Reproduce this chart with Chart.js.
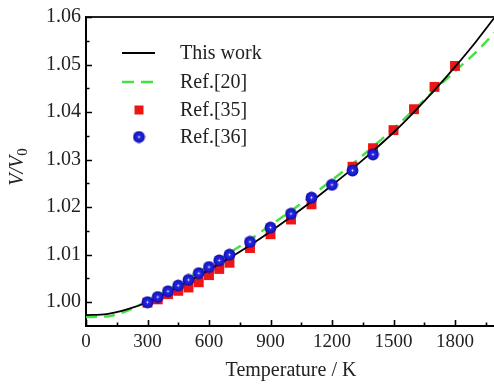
<!DOCTYPE html>
<html>
<head>
<meta charset="utf-8">
<script src="https://cdn.jsdelivr.net/npm/chart.js@4/dist/chart.umd.min.js"></script>
<style>
html,body{margin:0;padding:0;background:#fff;overflow:hidden;}
#wrap{position:absolute;left:0;top:0;width:503px;height:387px;}
</style>
</head>
<body>
<div id="wrap"><canvas id="c"></canvas></div>
<script>
// ---------- data ----------
const thisWorkT = [0,100,200,300,400,500,600,700,800,900,1000,1100,1200,1300,1400,1500,1600,1700,1800,1900,2000];
const thisWorkV = [0.9973,0.9975,0.9985,1.0000,1.0021,1.0044,1.0068,1.0093,1.0120,1.0149,1.0180,1.0212,1.0246,1.0281,1.0318,1.0357,1.0400,1.0446,1.0495,1.0547,1.0603];

const ref20T = [0,100,200,300,400,500,600,700,800,900,1000,1100,1200,1300,1400,1500,1600,1700,1800,1900,2000];
const ref20V = [0.9969,0.9970,0.9982,1.0003,1.0026,1.0051,1.0077,1.0104,1.0132,1.0162,1.0192,1.0224,1.0257,1.0291,1.0327,1.0365,1.0405,1.0446,1.0486,1.0525,1.0570];

const ref35T = [300,350,400,450,500,550,600,650,700,800,900,1000,1100,1300,1400,1500,1600,1700,1800];
const ref35V = [0.9999,1.0006,1.0017,1.0024,1.0031,1.0042,1.0057,1.0070,1.0083,1.0114,1.0143,1.0174,1.0206,1.0285,1.0324,1.0362,1.0406,1.0453,1.0497];

const ref36T = [300,350,400,450,500,550,600,650,700,800,900,1000,1100,1200,1300,1400];
const ref36V = [1.0000,1.0011,1.0023,1.0035,1.0047,1.0061,1.0074,1.0088,1.0100,1.0127,1.0157,1.0186,1.0220,1.0247,1.0277,1.0311];

const xTickValues = [0,300,600,900,1200,1500,1800];
const yTickValues = [1.00,1.01,1.02,1.03,1.04,1.05,1.06];
const xRange = [0,2000];
const yRange = [0.995,1.06];

const seriesNames = ['This work','Ref.[20]','Ref.[35]','Ref.[36]'];
const xTitle = 'Temperature / K';

// ---------- styles ----------
const SERIF = '"Liberation Serif", "Times New Roman", serif';
const BLACK = '#000000';
const GREEN = '#44e044';
const RED = '#ee1515';

function pts(t,v){return t.map((x,i)=>({x:x,y:v[i]}));}

function makeBall(){
  const s=13, c=document.createElement('canvas');
  c.width=s;c.height=s;
  const g=c.getContext('2d');
  const grad=g.createRadialGradient(6.5,6.5,0,6.5,6.5,6);
  grad.addColorStop(0,'#ffffff');
  grad.addColorStop(0.1,'#e0e0ff');
  grad.addColorStop(0.22,'#2a2ae0');
  grad.addColorStop(0.7,'#1818cc');
  grad.addColorStop(1,'#0c0ca4');
  g.fillStyle=grad;
  g.beginPath();g.arc(6.5,6.5,5.9,0,Math.PI*2);g.fill();
  return c;
}
const ball = makeBall();

function minorsFrom(majors, lo, hi){
  const out=[];
  const step=majors[1]-majors[0];
  for(let i=0;i<majors.length;i++){
    const a=majors[i]-step/2, b=majors[i]+step/2;
    if(a>lo+1e-9&&a<hi-1e-9&&out.indexOf(a)<0) out.push(a);
    if(b>lo+1e-9&&b<hi-1e-9&&out.indexOf(b)<0) out.push(b);
  }
  return out;
}

const decor = {
  id:'decor',
  afterDraw(chart){
    const ctx=chart.ctx, a=chart.chartArea;
    const xs=chart.scales.x, ys=chart.scales.y;
    ctx.save();
    // top frame
    ctx.strokeStyle='#222';ctx.lineWidth=2;
    ctx.beginPath();ctx.moveTo(a.left,a.top);ctx.lineTo(a.right+2,a.top);ctx.stroke();
    // inward ticks
    ctx.strokeStyle='#000';ctx.lineWidth=1.6;
    ctx.beginPath();
    xTickValues.forEach(v=>{const p=Math.round(xs.getPixelForValue(v))+0.5;ctx.moveTo(p,a.bottom);ctx.lineTo(p,a.bottom-6);});
    minorsFrom(xTickValues,xRange[0],xRange[1]).forEach(v=>{const p=Math.round(xs.getPixelForValue(v))+0.5;ctx.moveTo(p,a.bottom);ctx.lineTo(p,a.bottom-3.5);});
    yTickValues.forEach(v=>{const p=Math.round(ys.getPixelForValue(v))+0.5;ctx.moveTo(a.left,p);ctx.lineTo(a.left+6,p);});
    minorsFrom(yTickValues,yRange[0],yRange[1]).forEach(v=>{const p=Math.round(ys.getPixelForValue(v))+0.5;ctx.moveTo(a.left,p);ctx.lineTo(a.left+3.5,p);});
    ctx.stroke();

    // y axis title V/V0
    ctx.save();
    ctx.translate(18,167);
    ctx.rotate(-Math.PI/2);
    ctx.fillStyle='#222';
    ctx.textBaseline='middle';
    const f1='italic 20px '+SERIF, f2='15px '+SERIF;
    ctx.font=f1; const w1=ctx.measureText('V/V').width;
    ctx.font=f2; const w2=ctx.measureText('0').width;
    const x0=-(w1+w2)/2;
    ctx.font=f1; ctx.textAlign='left'; ctx.fillText('V/V',x0,0);
    ctx.font=f2; ctx.fillText('0',x0+w1,5);
    ctx.restore();

    // legend
    const rows=[53,82,110,137];
    const tx=180;
    ctx.fillStyle='#222';ctx.font='20px '+SERIF;ctx.textAlign='left';ctx.textBaseline='middle';
    seriesNames.forEach((n,i)=>ctx.fillText(n,tx,rows[i]+1));
    ctx.strokeStyle=BLACK;ctx.lineWidth=2;
    ctx.beginPath();ctx.moveTo(122,rows[0]);ctx.lineTo(155,rows[0]);ctx.stroke();
    ctx.strokeStyle=GREEN;ctx.lineWidth=2.4;ctx.setLineDash([12,7]);
    ctx.beginPath();ctx.moveTo(122,rows[1]);ctx.lineTo(154,rows[1]);ctx.stroke();
    ctx.setLineDash([]);
    ctx.fillStyle=RED;ctx.fillRect(134.5,rows[2]-4.5,9,9);
    ctx.drawImage(ball,139-6.5,rows[3]-6.5);
    ctx.restore();
  }
};

new Chart(document.getElementById('c'),{
  type:'scatter',
  data:{datasets:[
    {label:seriesNames[3],data:pts(ref36T,ref36V),pointStyle:ball,pointRadius:6,showLine:false,order:0},
    {label:seriesNames[0],data:pts(thisWorkT,thisWorkV),showLine:true,borderColor:BLACK,borderWidth:1.8,pointRadius:0,cubicInterpolationMode:'monotone',order:1},
    {label:seriesNames[2],data:pts(ref35T,ref35V),pointStyle:'rect',pointRadius:7,backgroundColor:RED,borderColor:RED,borderWidth:0,showLine:false,order:2},
    {label:seriesNames[1],data:pts(ref20T,ref20V),showLine:true,borderColor:GREEN,borderWidth:2.4,borderDash:[11,7],pointRadius:0,cubicInterpolationMode:'monotone',order:3}
  ]},
  options:{
    responsive:true,maintainAspectRatio:false,animation:false,
    layout:{padding:{top:14,right:1,bottom:0,left:0}},
    plugins:{legend:{display:false},tooltip:{enabled:false}},
    scales:{
      x:{type:'linear',min:xRange[0],max:xRange[1],
        afterBuildTicks(s){s.ticks=xTickValues.map(v=>({value:v}));},
        afterFit(s){s.height=61;},
        grid:{display:true,drawOnChartArea:false,drawTicks:false},
        border:{display:true,color:'#000',width:2},
        ticks:{padding:5,color:'#222',font:{family:SERIF,size:19},maxRotation:0,autoSkip:false,callback:v=>String(v)},
        title:{display:true,text:xTitle,color:'#222',font:{family:SERIF,size:20},padding:{top:0,bottom:4}}
      },
      y:{type:'linear',min:yRange[0],max:yRange[1],
        afterBuildTicks(s){s.ticks=yTickValues.map(v=>({value:v}));},
        afterFit(s){s.width=86;},
        grid:{display:true,drawOnChartArea:false,drawTicks:false},
        border:{display:true,color:'#000',width:2},
        ticks:{padding:5,color:'#222',font:{family:SERIF,size:20},autoSkip:false,callback:v=>Number(v).toFixed(2)}
      }
    }
  },
  plugins:[decor]
});
</script>
</body>
</html>
